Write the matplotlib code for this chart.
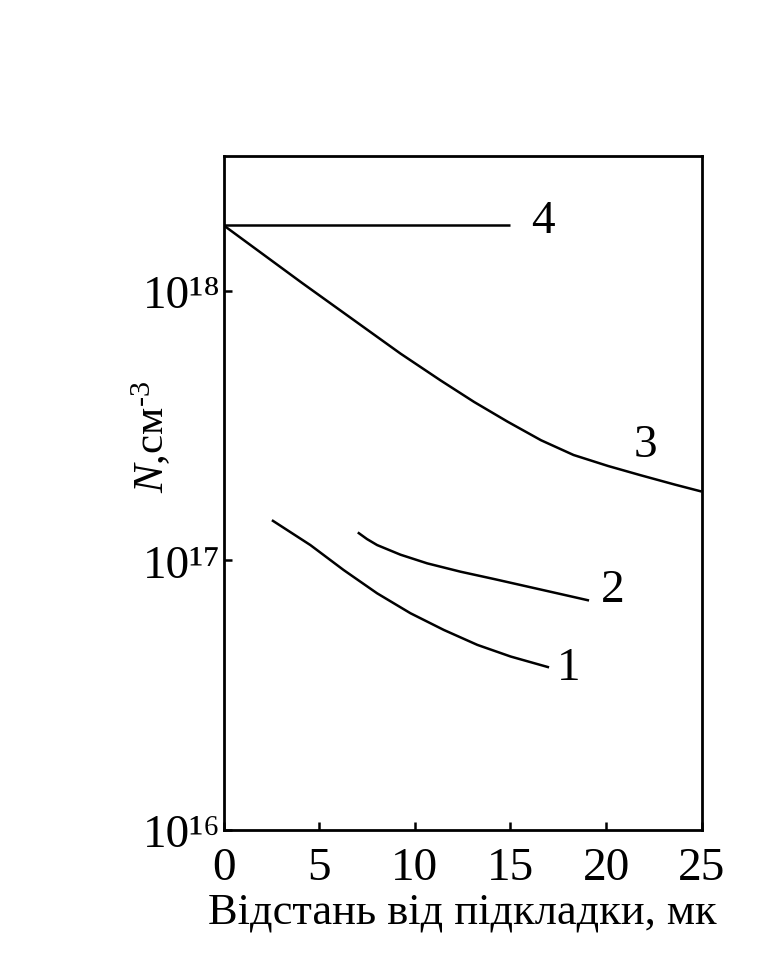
import matplotlib
matplotlib.use("Agg")
import matplotlib.pyplot as plt
from matplotlib.ticker import FixedLocator, FixedFormatter, NullLocator

plt.rcParams['font.family'] = ['Liberation Serif', 'DejaVu Serif']
plt.rcParams['mathtext.fontset'] = 'custom'
plt.rcParams['mathtext.rm'] = 'Liberation Serif'
plt.rcParams['mathtext.it'] = 'Liberation Serif:italic'

# Curve data (distance in microns, concentration in cm^-3)
x1 = [2.53, 4.54, 6.28, 8.03, 9.77, 11.52, 13.27, 15.01, 17.02]
n1 = [1.41e17, 1.14e17, 9.21e16, 7.55e16, 6.37e16, 5.52e16, 4.86e16, 4.40e16, 4.01e16]

x2 = [7.02, 7.5, 8.03, 9.25, 10.65, 12.39, 14.14, 15.88, 17.63, 19.11]
n2 = [1.27e17, 1.20e17, 1.14e17, 1.05e17, 9.75e16, 9.08e16, 8.53e16, 8.00e16, 7.50e16, 7.10e16]

x3 = [0.0, 4.1, 9.25, 11.35, 13.1, 14.85, 16.6, 18.3, 20.1, 21.8, 23.6, 25.0]
n3 = [1.75e18, 1.07e18, 5.85e17, 4.65e17, 3.87e17, 3.27e17, 2.79e17,
      2.46e17, 2.24e17, 2.07e17, 1.91e17, 1.80e17]

x4 = [0.0, 15.0]
n4 = [1.75e18, 1.75e18]

curve_labels = ['1', '2', '3', '4']
label_pos = [(18.06, 4.0e16), (20.34, 7.8e16), (22.08, 2.68e17), (16.72, 1.82e18)]

xticks = [0, 5, 10, 15, 20, 25]
xticklabels = ['0', '5', '10', '15', '20', '25']
yticks = [1e16, 1e17, 1e18]
yticklabels = ['10¹⁶', '10¹⁷', '10¹⁸']

fig = plt.figure(figsize=(7.61, 9.78), dpi=100)
ax = fig.add_axes([0.2937, 0.1503, 0.6284, 0.6892])

for xs, ns in [(x1, n1), (x2, n2), (x3, n3), (x4, n4)]:
    ax.plot(xs, ns, color='black', lw=1.8, solid_capstyle='butt', solid_joinstyle='round')

for lab, (lx, ly) in zip(curve_labels, label_pos):
    ax.text(lx, ly, lab, fontsize=34, ha='center', va='center')

ax.set_yscale('log')
ax.set_xlim(0, 25)
ax.set_ylim(1e16, 10**18.5)

ax.xaxis.set_major_locator(FixedLocator(xticks))
ax.xaxis.set_major_formatter(FixedFormatter(xticklabels))
ax.yaxis.set_major_locator(FixedLocator(yticks))
ax.yaxis.set_major_formatter(FixedFormatter(yticklabels))
ax.yaxis.set_minor_locator(NullLocator())
ax.xaxis.set_minor_locator(NullLocator())

ax.tick_params(axis='both', direction='in', length=6, width=1.8, labelsize=34)
ax.tick_params(axis='x', pad=12)
ax.tick_params(axis='y', pad=2)

for sp in ax.spines.values():
    sp.set_linewidth(2.0)

ax.set_xlabel('Відстань від підкладки, мк', fontsize=32, labelpad=2)
ax.set_ylabel(r'$\mathit{N}$,см$^{\text{-3}}$', fontsize=31)
ax.yaxis.set_label_coords(-0.105, 0.585)

fig.savefig('out.png', dpi=100, facecolor='white')
